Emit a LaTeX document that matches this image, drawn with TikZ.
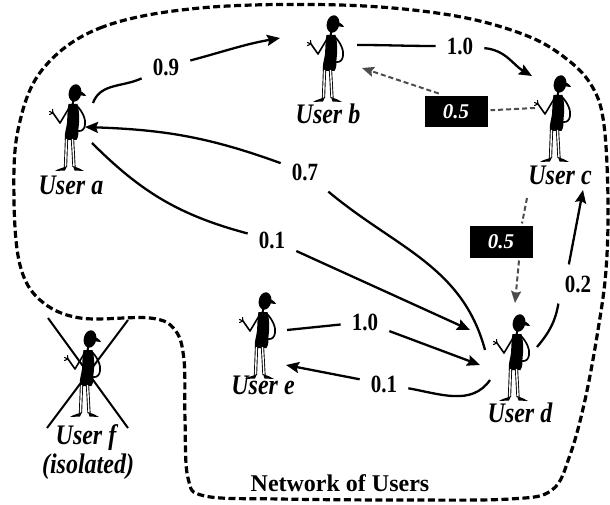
\documentclass[tikz,border=0pt]{standalone}
\usepackage{fontspec}
\setmainfont{Liberation Serif}
\usepackage{graphicx}
\usetikzlibrary{arrows.meta,calc}

% vertically stretched text
\newcommand\tallt[1]{\scalebox{1}[1.18]{#1}}

\tikzset{
  person/.pic={
    \begin{scope}[shift={(5,34)}]
      % head and cap brim
      \fill[rotate=-12] (0,0) ellipse [x radius=6.3, y radius=8.8];
      \fill (3,2) .. controls (6.5,2) and (10,-0.5) .. (11,-3)
            .. controls (8.5,-3) and (5.5,-2.5) .. (3,-1.5) -- cycle;
      % neck
      \draw[line width=2] (-1.5,-6) -- (-2.5,-12);
      % torso
      \fill (-6.5,-11) -- (2.5,-11) .. controls (4.5,-18) and (4.5,-28) .. (3.5,-35)
            .. controls (3.5,-40) and (3.5,-44) .. (1.5,-47) -- (-10,-47)
            .. controls (-11,-41) and (-8.5,-35) .. (-8,-30)
            .. controls (-7.5,-22) and (-7.5,-16) .. cycle;
      % raised arm with hand
      \draw[line width=1.6, line cap=round, line join=round] (-6,-15) -- (-15,-30) -- (-22,-20);
      \draw[line width=1.1, line cap=round] (-22,-20) -- (-25.5,-18.5) (-22,-20) -- (-25.5,-21.5) (-22,-20) -- (-22.5,-16.5);
      % arm on the hip
      \draw[line width=1.7, line cap=round] (2,-13) .. controls (8,-19) and (11,-27) .. (10,-32)
            .. controls (9.5,-36) and (7,-38.5) .. (3.5,-38);
      % legs
      \draw[line width=0.9, double=white, double distance=1.4] (-8.5,-46) -- (-9.5,-74) (-2.5,-46) -- (-1,-74);
      % feet
      \fill (-8,-73) -- (-10,-77.5) -- (-20,-78) .. controls (-16.5,-75.5) and (-12,-75) .. (-8,-73) -- cycle;
      \fill (-2,-73) -- (-0.5,-77.5) -- (9,-78) .. controls (6,-75.5) and (2.5,-75) .. (-2,-73) -- cycle;
    \end{scope}
  },
  userbox/.style={draw=none, minimum width=44pt, minimum height=86pt, inner sep=0pt},
  ulbl/.style={font=\bfseries\itshape\fontsize{24}{26}\selectfont, inner sep=0pt},
  numlbl/.style={font=\bfseries\fontsize{21}{24}\selectfont, inner sep=11pt},
  wbox/.style={fill=black, text=white, font=\bfseries\itshape\fontsize{21}{23}\selectfont,
               minimum width=63pt, minimum height=31pt, inner sep=0pt, outer sep=3pt},
  link/.style={line width=2.3pt},
  tip/.style={-{Stealth[length=13pt, width=11pt, inset=2pt]}},
  glink/.style={line width=2pt, draw=black!70, dash pattern=on 5pt off 3pt,
                -{Stealth[length=12pt, width=10pt, inset=2pt]}},
  netline/.style={line width=3.2pt, dash pattern=on 7pt off 3.5pt},
  crossline/.style={line width=2pt}
}

\begin{document}
\begin{tikzpicture}[x=1pt, y=1pt]
\useasboundingbox (0,0) rectangle (610,504);
\fill[white] (0,0) rectangle (610,504);

% boundary of the network
\draw[netline] plot[smooth cycle, tension=0.6] coordinates {
  (42,434) (100,476) (200,496) (340,499) (450,489) (525,469) (568,444)
  (593,416) (604,379) (608,304) (606,234) (598,174) (585,104) (570,49)
  (552,14) (510,5) (400,4) (280,5) (205,8) (188,26) (185,84) (184,144)
  (175,174) (150,186) (80,186) (40,204) (20,239) (14,304) (18,374)};

% users
\node[userbox] (ua) at (70,377) {};
\node[userbox] (ub) at (328,446) {};
\node[userbox] (uc) at (555,386) {};
\node[userbox] (ud) at (514,147) {};
\node[userbox] (ue) at (260,169) {};
\node[userbox] (uf) at (85,131) {};
\foreach \u in {ua,ub,uc,ud,ue,uf} \pic at (\u.center) {person};

% user f is crossed out
\draw[crossline] ([shift={(-37,55)}]uf.center) -- ([shift={(43,-55)}]uf.center);
\draw[crossline] ([shift={(43,53)}]uf.center) -- ([shift={(-38,-55)}]uf.center);

% user names
\node[ulbl] (ta) at (71,319) {\tallt{User a}};
\node[ulbl] (tb) at (328,390) {\tallt{User b}};
\node[ulbl] (tc) at (560,329) {\tallt{User c}};
\node[ulbl] (td) at (520,91) {\tallt{User d}};
\node[ulbl] (te) at (263,119) {\tallt{User e}};
\node[ulbl] (tf) at (86,66) {\tallt{User f}};
\node[ulbl] (tfi) at (88,37) {\tallt{(isolated)}};
\node[font=\bfseries\fontsize{24}{26}\selectfont, inner sep=0pt] (net) at (340,21) {Network of Users};

% weights
\node[numlbl] (l09) at (166,437) {\tallt{0.9}};
\node[numlbl] (l10a) at (460,458) {\tallt{1.0}};
\node[numlbl] (l07) at (305,332) {\tallt{0.7}};
\node[numlbl] (l01a) at (272,264) {\tallt{0.1}};
\node[numlbl] (l10b) at (365,182) {\tallt{1.0}};
\node[numlbl] (l01b) at (384,120) {\tallt{0.1}};
\node[numlbl] (l02) at (578,220) {\tallt{0.2}};
\node[wbox] (lb1) at (456,392) {0.5};
\node[wbox] (lb2) at (501,262) {0.5};

% a -> b
\draw[link] ([shift={(23,24)}]ua.center) to[out=70, in=205] (l09);
\draw[link, tip] (l09) to[out=15, in=190] ([shift={(-48,20)}]ub.center);
% b -> c
\draw[link] ([shift={(29,13)}]ub.center) to[out=0, in=180] (l10a);
\draw[link, tip] (l10a) to[out=-5, in=150] ([shift={(-23,42)}]uc.center);
% c -> b
\draw[glink, -] ([shift={(-20,10)}]uc.center) -- (lb1);
\draw[glink] (lb1.133) -- ([shift={(34,-10)}]ub.center);
% d -> a
\draw[link] ([shift={(-29,7)}]ud.center) to[out=105, in=-40] (l07);
\draw[link, tip] (l07) to[out=160, in=-2] ([shift={(15,0)}]ua.center);
% a -> d
\draw[link] ([shift={(22,-16)}]ua.center) to[out=-45, in=165] (l01a);
\draw[link, tip] (l01a) -- ([shift={(-44,27)}]ud.center);
% e -> d
\draw[link] ([shift={(27,5)}]ue.center) -- (l10b);
\draw[link, tip] (l10b) -- ([shift={(-34,-8)}]ud.center);
% d -> e
\draw[link] ([shift={(-24,-23)}]ud.center) to[out=235, in=-10] (l01b);
\draw[link, tip] (l01b) -- ([shift={(26,-30)}]ue.center);
% d -> c
\draw[link] ([shift={(23,10)}]ud.center) to[out=50, in=-100] (l02.225);
\draw[link, tip] (l02.115) -- ([shift={(28,-72)}]uc.center);
% c -> d
\draw[glink, -] ([shift={(-28,-80)}]uc.center) -- ([xshift=21pt]lb2.north);
\draw[glink] ([xshift=18pt]lb2.south) -- ([shift={(1,54)}]ud.center);
\end{tikzpicture}
\end{document}
